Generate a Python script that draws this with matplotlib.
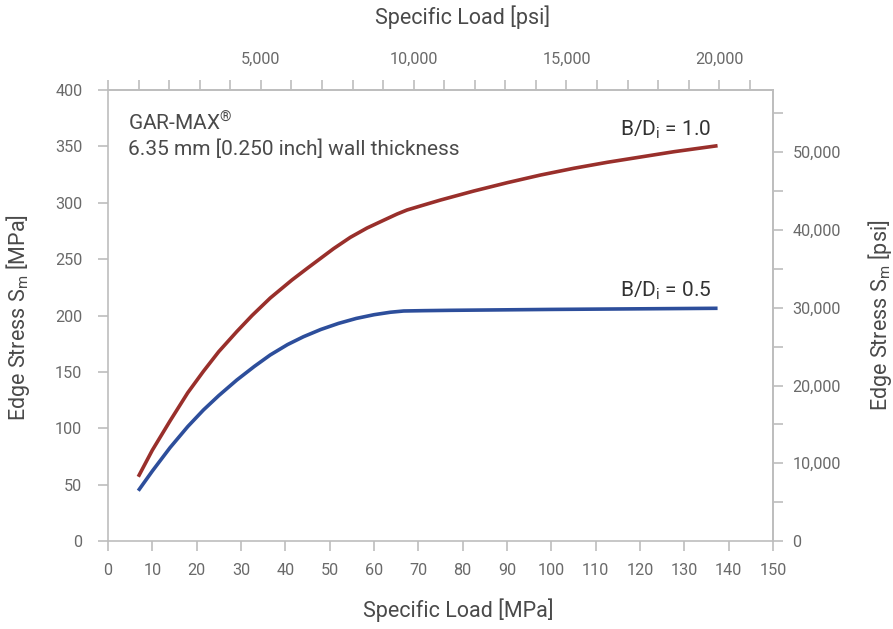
import numpy as np
from matplotlib import pyplot as plt
from matplotlib.ticker import FuncFormatter, MultipleLocator

plt.rcParams['font.family'] = ['Roboto', 'DejaVu Sans']
plt.rcParams['mathtext.fontset'] = 'custom'
plt.rcParams['mathtext.rm'] = 'Roboto'
plt.rcParams['mathtext.default'] = 'regular'

MPA_TO_PSI = 145.038

# Edge stress vs specific load, both in MPa
load_10 = [6.84, 10.0, 14.0, 18.0, 21.53, 25.0, 29.07, 32.5, 36.6, 41.5, 45.0,
           50.89, 54.66, 58.44, 62.19, 65.21, 67.47, 71.22, 75.0, 82.5, 90.06,
           97.58, 105.1, 112.65, 120.17, 127.7, 137.5]
stress_10 = [57.0, 80.5, 106.5, 131.5, 150.5, 168.0, 185.8, 200.0, 215.5, 231.5,
             242.0, 259.3, 269.3, 277.6, 284.5, 290.0, 293.6, 298.0, 302.4, 310.4,
             317.8, 324.6, 330.6, 335.9, 340.6, 345.3, 350.6]

load_05 = [6.84, 10.0, 14.0, 18.0, 21.53, 25.0, 29.07, 33.0, 36.6, 40.5, 44.1,
           48.0, 52.0, 56.0, 60.0, 63.7, 66.7, 71.22, 77.25, 100.0, 137.5]
stress_05 = [44.6, 62.0, 82.8, 101.5, 116.2, 129.0, 142.8, 154.8, 165.0, 174.2,
             181.2, 187.6, 193.0, 197.4, 200.7, 202.9, 204.0, 204.3, 204.6, 205.4,
             206.4]

label_10 = 'B/D$_\\mathrm{i}$ = 1.0'
label_05 = 'B/D$_\\mathrm{i}$ = 0.5'

red = '#992f2b'
blue = '#2d4e9b'
grey = '#bdbdbd'
tick_col = '#6a6a6a'
text_col = '#4a4a4a'

fig = plt.figure(figsize=(8.93, 6.29), dpi=100)
ax = fig.add_axes([0.1209, 0.1399, 0.7447, 0.717])

ax.plot(load_10, stress_10, color=red, lw=2.6, solid_capstyle='butt')
ax.plot(load_05, stress_05, color=blue, lw=2.6, solid_capstyle='butt')

ax.set_xlim(0, 150)
ax.set_ylim(0, 400)
ax.xaxis.set_major_locator(MultipleLocator(10))
ax.yaxis.set_major_locator(MultipleLocator(50))

for s in ax.spines.values():
    s.set_color(grey)
    s.set_linewidth(1.2)

ax.tick_params(direction='out', length=7.5, width=1.2, color=grey,
               labelcolor=tick_col, labelsize=11.7)
ax.tick_params(axis='x', pad=8)
ax.tick_params(axis='y', pad=11)

# top axis in psi
top = ax.secondary_xaxis('top', functions=(lambda x: x * MPA_TO_PSI,
                                           lambda x: x / MPA_TO_PSI))
top.set_xticks(np.arange(0, 22000, 1000))
top.xaxis.set_major_formatter(FuncFormatter(
    lambda v, p: '{:,.0f}'.format(v) if v > 0 and round(v) % 5000 == 0 else ''))
top.tick_params(direction='out', length=7.5, width=1.2, color=grey,
                labelcolor=tick_col, labelsize=11.7, pad=9)
top.spines['top'].set_color(grey)
top.spines['top'].set_linewidth(1.2)

# right axis in psi
right = ax.secondary_yaxis('right', functions=(lambda y: y * MPA_TO_PSI,
                                               lambda y: y / MPA_TO_PSI))
right.set_yticks(np.arange(0, 58000, 5000))
right.yaxis.set_major_formatter(FuncFormatter(
    lambda v, p: '{:,.0f}'.format(v) if round(v) % 10000 == 0 else ''))
right.tick_params(direction='out', length=7.5, width=1.2, color=grey,
                  labelcolor=tick_col, labelsize=11.7, pad=6.5)
right.spines['right'].set_color(grey)
right.spines['right'].set_linewidth(1.2)

# axis titles
fig.text(0.513, 0.030, 'Specific Load [MPa]', fontsize=15.5, color=text_col,
         ha='center', va='center')
fig.text(0.518, 0.973, 'Specific Load [psi]', fontsize=15.5, color=text_col,
         ha='center', va='center')
fig.text(0.020, 0.496, 'Edge Stress S$_\\mathrm{m}$ [MPa]', fontsize=15.5,
         color=text_col, ha='center', va='center', rotation=90)
fig.text(0.985, 0.498, 'Edge Stress S$_\\mathrm{m}$ [psi]', fontsize=15.5,
         color=text_col, ha='center', va='center', rotation=90)

ax.text(0.030, 0.911, 'GAR-MAX$^{\u00ae}$', transform=ax.transAxes, fontsize=15,
        color=text_col, va='baseline')
ax.text(0.030, 0.856, '6.35 mm [0.250 inch] wall thickness', transform=ax.transAxes,
        fontsize=15, color=text_col, va='baseline')
ax.text(0.907, 0.898, label_10, transform=ax.transAxes, fontsize=15,
        color='#333333', ha='right', va='baseline')
ax.text(0.907, 0.541, label_05, transform=ax.transAxes, fontsize=15,
        color='#333333', ha='right', va='baseline')

plt.savefig('out.png', dpi=100)
